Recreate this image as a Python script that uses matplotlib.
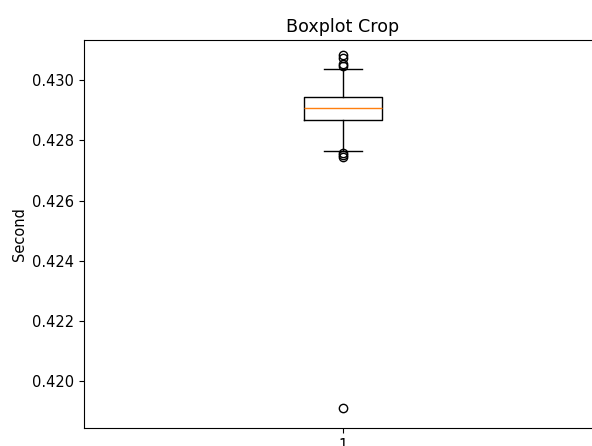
import matplotlib
matplotlib.use('Agg')
import matplotlib.pyplot as plt

# box statistics (seconds)
q1 = 0.42867
med = 0.42906
q3 = 0.42945
whislo = 0.42764
whishi = 0.43036
fliers = [0.43082, 0.43073, 0.43052, 0.43047,
          0.42757, 0.42751, 0.42745, 0.41910]
labels = ['1']

stats = [{'med': med, 'q1': q1, 'q3': q3, 'whislo': whislo,
          'whishi': whishi, 'fliers': fliers, 'label': labels[0]}]

plt.rcParams['font.size'] = 10.5

fig = plt.figure(figsize=(5.92, 4.46), dpi=100)
# the reference is a crop: axes run past the right and bottom edges
ax = fig.add_axes([84 / 592, 18 / 446, 518 / 592, 388 / 446])
ax.bxp(stats, showfliers=True)
ax.set_ylim(0.41845, 0.43133)
ax.set_yticks([0.420, 0.422, 0.424, 0.426, 0.428, 0.430])
ax.set_title('Boxplot Crop')
ax.set_ylabel('Second')

fig.savefig('out.png', dpi=100)
